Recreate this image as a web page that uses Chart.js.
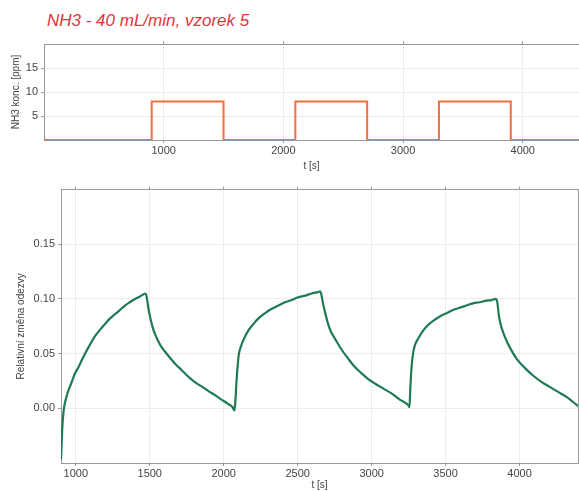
<!DOCTYPE html>
<html>
<head>
<meta charset="utf-8">
<script src="https://cdn.jsdelivr.net/npm/chart.js@4/dist/chart.umd.min.js"></script>
<style>
  body { margin: 0; background: #fff; width: 579px; height: 491px; overflow: hidden; position: relative; }
  #title { position: absolute; left: 47px; top: 11px; font: italic 17px "Liberation Sans", Arial, sans-serif; color: #e2343d; white-space: nowrap; }
  #top { position: absolute; left: 0; top: 0; }
  #bottom { position: absolute; left: 0; top: 180px; }
</style>
</head>
<body>
<div id="title">NH3 - 40 mL/min, vzorek 5</div>
<canvas id="top" width="579" height="180"></canvas>
<canvas id="bottom" width="579" height="311"></canvas>
<script>
// NH3 dosing profile (step changes)
const pulseTime = [0, 900, 1500, 2100, 2700, 3300, 3900, 4470];
const pulseConc = [0, 8, 0, 8, 0, 8, 0, 0];
const concTicks = [5, 10, 15];
const timeTicksTop = [1000, 2000, 3000, 4000];

// relative sensor response
const respTime = [900, 905, 910, 918, 925, 940, 955, 975, 995, 1020, 1040, 1062, 1095, 1130, 1165, 1197, 1230, 1265, 1300, 1332, 1365, 1400, 1430, 1455, 1470, 1478, 1490, 1505, 1520, 1535, 1555, 1580, 1620, 1670, 1715, 1760, 1805, 1851, 1895, 1941, 1985, 2030, 2060, 2072, 2078, 2087, 2095, 2103, 2115, 2135, 2166, 2200, 2233, 2280, 2324, 2370, 2414, 2460, 2503, 2550, 2594, 2630, 2652, 2660, 2672, 2690, 2706, 2725, 2751, 2795, 2841, 2885, 2932, 2975, 3022, 3080, 3134, 3190, 3247, 3256, 3262, 3270, 3280, 3292, 3320, 3348, 3380, 3416, 3460, 3506, 3550, 3596, 3640, 3686, 3730, 3776, 3810, 3839, 3848, 3862, 3885, 3911, 3945, 3979, 4035, 4091, 4150, 4204, 4260, 4317, 4360, 4396];
const respValue = [-0.047, -0.030, -0.015, -0.002, 0.004, 0.012, 0.018, 0.025, 0.032, 0.038, 0.044, 0.050, 0.058, 0.066, 0.072, 0.077, 0.082, 0.086, 0.090, 0.094, 0.097, 0.100, 0.102, 0.104, 0.105, 0.103, 0.092, 0.082, 0.074, 0.068, 0.062, 0.056, 0.049, 0.041, 0.035, 0.029, 0.024, 0.020, 0.016, 0.012, 0.008, 0.004, 0.001, -0.002, 0.005, 0.026, 0.040, 0.050, 0.056, 0.063, 0.071, 0.077, 0.082, 0.087, 0.091, 0.094, 0.097, 0.099, 0.1015, 0.103, 0.105, 0.106, 0.107, 0.104, 0.0955, 0.085, 0.077, 0.070, 0.064, 0.054, 0.0455, 0.038, 0.032, 0.027, 0.0227, 0.018, 0.0136, 0.008, 0.003, 0.001, 0.020, 0.038, 0.050, 0.0575, 0.065, 0.071, 0.076, 0.080, 0.084, 0.087, 0.090, 0.092, 0.094, 0.096, 0.097, 0.0985, 0.099, 0.100, 0.098, 0.083, 0.071, 0.062, 0.053, 0.0455, 0.037, 0.030, 0.024, 0.0196, 0.015, 0.0105, 0.006, 0.002];
const respTicks = [0, 0.05, 0.10, 0.15];
const timeTicksBottom = [1000, 1500, 2000, 2500, 3000, 3500, 4000];

const FONT = "'Liberation Sans', Arial, sans-serif";
const AXIS = "#9a9a9a";
const GRID = "#ececec";
const LABEL = "#444";

function fixTicks(list) {
  return (scale) => { scale.ticks = list.map(v => ({ value: v })); };
}

function frameAxis(position, min, max, list) {
  return {
    type: "linear", position, min, max,
    afterBuildTicks: fixTicks(list),
    afterFit: (s) => { if (s.isHorizontal()) s.height = 0; else s.width = 0; },
    ticks: { display: false },
    grid: { drawOnChartArea: false, color: AXIS, tickLength: 3 },
    border: { display: true, color: AXIS, width: 1 }
  };
}

new Chart(document.getElementById("top"), {
  type: "line",
  data: {
    datasets: [{
      data: pulseTime.map((t, i) => ({ x: t, y: pulseConc[i] })),
      stepped: "before",
      borderColor: "#f0703f",
      borderWidth: 2,
      pointRadius: 0
    }]
  },
  options: {
    responsive: false,
    animation: false,
    layout: { padding: { top: 44, right: 0, left: 0, bottom: 0 } },
    plugins: { legend: { display: false }, tooltip: { enabled: false } },
    scales: {
      x: {
        type: "linear", min: 0, max: 4470,
        afterBuildTicks: fixTicks(timeTicksTop),
        afterFit: (s) => { s.height = 40; },
        ticks: { color: LABEL, font: { family: FONT, size: 11 }, padding: 1, callback: (v) => String(v) },
        grid: { color: GRID, tickColor: AXIS, tickLength: 3 },
        border: { color: AXIS },
        title: { display: true, text: "t [s]", color: LABEL, font: { family: FONT, size: 10 }, padding: { top: 0, bottom: 8 } }
      },
      x2: frameAxis("top", 0, 4470, timeTicksTop),
      y: {
        type: "linear", min: 0, max: 20,
        afterBuildTicks: fixTicks(concTicks),
        afterFit: (s) => { s.width = 44; },
        ticks: { color: LABEL, font: { family: FONT, size: 11 }, padding: 3, callback: (v) => String(v) },
        grid: { color: GRID, tickColor: AXIS, tickLength: 3 },
        border: { color: AXIS },
        title: { display: true, text: "NH3 konc. [ppm]", color: LABEL, font: { family: FONT, size: 10 }, padding: { top: 10, bottom: 0 } }
      }
    }
  }
});

new Chart(document.getElementById("bottom"), {
  type: "line",
  data: {
    datasets: [{
      data: respTime.map((t, i) => ({ x: t, y: respValue[i] })),
      borderColor: "#1e7a52",
      borderWidth: 2.2,
      pointRadius: 0,
      cubicInterpolationMode: "monotone"
    }]
  },
  options: {
    responsive: false,
    animation: false,
    layout: { padding: { top: 8, right: 1, left: 0, bottom: 0 } },
    plugins: { legend: { display: false }, tooltip: { enabled: false } },
    scales: {
      x: {
        type: "linear", min: 900, max: 4395,
        afterBuildTicks: fixTicks(timeTicksBottom),
        afterFit: (s) => { s.height = 28; },
        ticks: { color: LABEL, font: { family: FONT, size: 11 }, padding: 1, callback: (v) => String(v) },
        grid: { color: GRID, tickColor: AXIS, tickLength: 3 },
        border: { color: AXIS },
        title: { display: true, text: "t [s]", color: LABEL, font: { family: FONT, size: 10 }, padding: { top: 0, bottom: 0 } }
      },
      x2: frameAxis("top", 900, 4395, timeTicksBottom),
      y: {
        type: "linear", min: -0.05, max: 0.2,
        afterBuildTicks: fixTicks(respTicks),
        afterFit: (s) => { s.width = 61; },
        ticks: { color: LABEL, font: { family: FONT, size: 11 }, padding: 3, callback: (v) => v.toFixed(2) },
        grid: { color: GRID, tickColor: AXIS, tickLength: 3 },
        border: { color: AXIS },
        title: { display: true, text: "Relativní změna odezvy", color: LABEL, font: { family: FONT, size: 10 }, padding: { top: 15, bottom: 0 } }
      },
      y2: frameAxis("right", -0.05, 0.2, respTicks)
    }
  }
});
</script>
</body>
</html>
